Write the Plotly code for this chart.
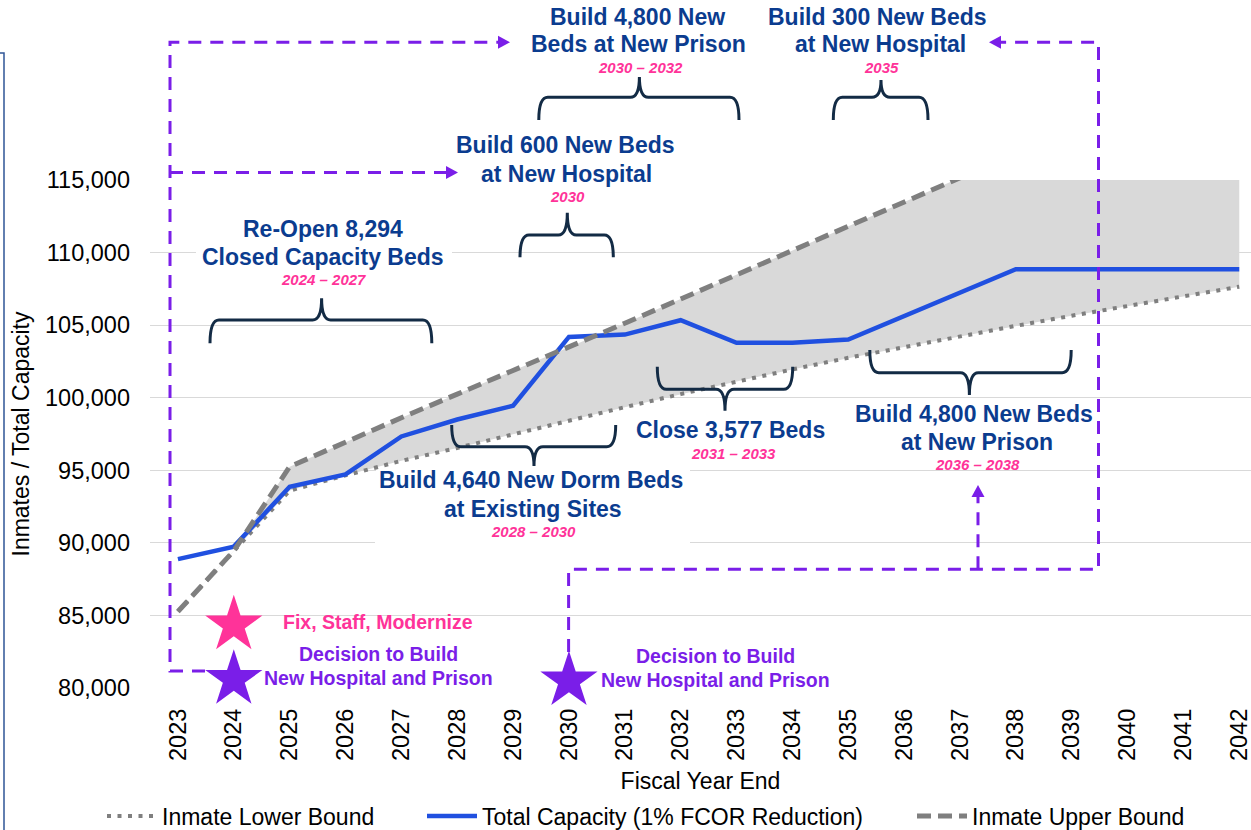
import plotly.graph_objects as go

# ---------------- data ----------------
years = list(range(2023, 2043))
year_labels = [str(y) for y in years]

inmate_lower = [85270, 89450, 93600, 94650, 95650, 96540, 97500, 98430, 99350, 100250,
                101120, 101950, 102750, 103500, 104220, 104950, 105650, 106300, 107000, 107650]
total_capacity = [88880, 89740, 93870, 94720, 97330, 98500, 99450, 104190, 104350, 105340,
                  103780, 103780, 104010, 105610, 107230, 108850, 108850, 108850, 108850, 108850]
inmate_upper = [85270, 89450, 95250, 96950, 98620, 100250, 101850, 103480, 105130, 106800,
                108470, 110140, 111810, 113480, 115150, 116820, 118490, 120160, 121830, 123500]

y_ticks = [80000, 85000, 90000, 95000, 100000, 105000, 110000, 115000]

milestone_years = [2024, 2024, 2030]
milestone_values = [84350, 80600, 80500]

# ---------------- styling / geometry ----------------
W, H = 1251, 830
PL, PR, PT, PB = 150, 1251, 180, 688
X_RANGE = [2022.5, 2022.5 + (PR - PL) / 55.86]
Y_RANGE = [80000, 115000]

FONT = "Liberation Sans, Arial, sans-serif"
NAVY = "#0B3C8F"
BRACE = "#132B45"
PINK = "#FF3399"
PURPLE = "#7A1EE8"
BLUE = "#2050E0"
GRAY = "#7F7F7F"
FILL = "#D9D9D9"
GRID = "#D9D9D9"


def px(x):
    return (x - PL) / (PR - PL)


def py(y):
    return (PB - y) / (PB - PT)


def xd(x):
    return X_RANGE[0] + (x - PL) / (PR - PL) * (X_RANGE[1] - X_RANGE[0])


def yd(y):
    return Y_RANGE[0] + (PB - y) / (PB - PT) * (Y_RANGE[1] - Y_RANGE[0])


fig = go.Figure()

# shaded band between lower and upper bound
fig.add_trace(go.Scatter(x=years, y=inmate_lower, mode="lines", line=dict(width=0),
                         showlegend=False, hoverinfo="skip"))
fig.add_trace(go.Scatter(x=years, y=inmate_upper, mode="lines", line=dict(width=0),
                         fill="tonexty", fillcolor=FILL, showlegend=False, hoverinfo="skip"))

fig.add_trace(go.Scatter(x=years, y=inmate_lower, mode="lines", name="Inmate Lower Bound",
                         line=dict(color=GRAY, width=4, dash="4px,6.5px"), legend="legend"))
fig.add_trace(go.Scatter(x=years, y=total_capacity, mode="lines",
                         name="Total Capacity (1% FCOR Reduction)",
                         line=dict(color=BLUE, width=4.5), legend="legend2"))
fig.add_trace(go.Scatter(x=years, y=inmate_upper, mode="lines", name="Inmate Upper Bound",
                         line=dict(color=GRAY, width=5, dash="14px,7px"), legend="legend3"))

fig.add_trace(go.Scatter(x=milestone_years, y=milestone_values, mode="markers",
                         marker=dict(symbol="star", size=43, color=[PINK, PURPLE, PURPLE],
                                     line=dict(width=0)),
                         cliponaxis=False, showlegend=False, hoverinfo="skip"))

shapes = []
annotations = []

# gaps in gridlines behind text boxes
for (x0, x1, yc) in [(196, 452, 252.7), (376, 690, 471), (375, 690, 543)]:
    shapes.append(dict(type="rect", xref="x", yref="y", layer="between",
                       x0=xd(x0), x1=xd(x1), y0=yd(yc + 4), y1=yd(yc - 4),
                       fillcolor="white", line=dict(width=0)))
shapes.append(dict(type="rect", xref="paper", yref="paper", layer="above",
                   x0=px(457), x1=px(678), y0=py(184), y1=py(177),
                   fillcolor="white", line=dict(width=0)))


def brace(x0, x1, xc, yh, ytip, ynotch, r=9):
    pts = [
        ("M", [(x0, ytip)]),
        ("Q", [(x0, yh), (x0 + r, yh)]),
        ("L", [(xc - r, yh)]),
        ("Q", [(xc, yh), (xc, ynotch)]),
        ("Q", [(xc, yh), (xc + r, yh)]),
        ("L", [(x1 - r, yh)]),
        ("Q", [(x1, yh), (x1, ytip)]),
    ]
    path = ""
    for cmd, ps in pts:
        path += cmd + " ".join(f"{px(a):.5f},{py(b):.5f}" for a, b in ps) + " "
    shapes.append(dict(type="path", xref="paper", yref="paper", path=path.strip(),
                       line=dict(color=BRACE, width=3), layer="above"))


brace(538.8, 739, 639.4, 97.3, 120, 77)
brace(833.3, 928, 881, 97.3, 120, 80)
brace(520, 613.3, 567.3, 235, 257.3, 212.7)
brace(210, 431.8, 321.6, 320, 343.3, 298.3)
brace(451.7, 615.7, 534, 446.7, 425, 466)
brace(657.3, 792.7, 725, 389.3, 366.7, 410.7)
brace(869.8, 1071.2, 969.4, 372.7, 350, 395)


def polyline(pts):
    path = "M" + " L".join(f"{px(a):.5f},{py(b):.5f}" for a, b in pts)
    shapes.append(dict(type="path", xref="paper", yref="paper", path=path,
                       line=dict(color=PURPLE, width=3, dash="13px,9px"), layer="above"))


def arrowhead(tip, direction, L=12, hw=6.5):
    tx, ty = tip
    if direction == "right":
        pts = [(tx - L, ty - hw), (tx, ty), (tx - L, ty + hw)]
    elif direction == "left":
        pts = [(tx + L, ty - hw), (tx, ty), (tx + L, ty + hw)]
    else:  # up
        pts = [(tx - hw, ty + L), (tx, ty), (tx + hw, ty + L)]
    path = "M" + " L".join(f"{px(a):.5f},{py(b):.5f}" for a, b in pts) + " Z"
    shapes.append(dict(type="path", xref="paper", yref="paper", path=path,
                       fillcolor=PURPLE, line=dict(width=0), layer="above"))


polyline([(205, 671), (170, 671), (170, 42.3), (499, 42.3)])
arrowhead((510, 42.3), "right")
polyline([(170, 172.5), (447, 172.5)])
arrowhead((458, 172.5), "right")
polyline([(568.6, 652), (568.6, 569.3), (1098.5, 569.3), (1098.5, 42.3), (1000, 42.3)])
arrowhead((989, 42.3), "left")
polyline([(978, 569.3), (978, 496)])
arrowhead((978, 485), "up")

# frame edge at far left
shapes.append(dict(type="path", xref="paper", yref="paper",
                   path=f"M{px(0)},{py(53)} L{px(4)},{py(53)} L{px(4)},{py(830)}",
                   line=dict(color="#2F5597", width=1.5), layer="above"))


def label(text, x, y, color, size, bold=True, italic=False):
    t = text
    if italic:
        t = f"<i>{t}</i>"
    if bold:
        t = f"<b>{t}</b>"
    annotations.append(dict(text=t, x=px(x), y=py(y - 1.5), xref="paper", yref="paper",
                            xanchor="center", yanchor="middle", showarrow=False,
                            font=dict(family=FONT, size=size, color=color)))


# navy headings
label("Build 4,800 New", 637, 18.3, NAVY, 23)
label("Beds at New Prison", 638.5, 45, NAVY, 23)
label("Build 300 New Beds", 877, 18.3, NAVY, 23)
label("at New Hospital", 880.5, 45, NAVY, 23)
label("Build 600 New Beds", 565, 146.7, NAVY, 23)
label("at New Hospital", 566.7, 175, NAVY, 23)
label("Re-Open 8,294", 323, 230, NAVY, 23)
label("Closed Capacity Beds", 323, 258.3, NAVY, 23)
label("Build 4,640 New Dorm Beds", 530.5, 481.7, NAVY, 23)
label("at Existing Sites", 532.7, 510, NAVY, 23)
label("Close 3,577 Beds", 730, 431.7, NAVY, 23)
label("Build 4,800 New Beds", 974, 415, NAVY, 23)
label("at New Prison", 976.8, 443.3, NAVY, 23)

# pink date ranges
label("2030 – 2032", 640, 69, PINK, 15, italic=True)
label("2035", 881, 69, PINK, 15, italic=True)
label("2030", 567.7, 198, PINK, 15, italic=True)
label("2024 – 2027", 323, 281, PINK, 15, italic=True)
label("2028 – 2030", 533.5, 532.7, PINK, 15, italic=True)
label("2031 – 2033", 733.9, 455, PINK, 15, italic=True)
label("2036 – 2038", 977.7, 466, PINK, 15, italic=True)

# milestone captions
label("Fix, Staff, Modernize", 377.5, 623.3, PINK, 19.5)
label("Decision to Build", 378.8, 655.7, PURPLE, 19.5)
label("New Hospital and Prison", 378.6, 679.3, PURPLE, 19.5)
label("Decision to Build", 715.2, 657.7, PURPLE, 19.5)
label("New Hospital and Prison", 715, 681, PURPLE, 19.5)

LEG_Y = 1 - 816 / H
legend_common = dict(orientation="h", yanchor="middle", xanchor="left",
                     xref="container", yref="container",
                     bgcolor="rgba(0,0,0,0)", borderwidth=0,
                     font=dict(family=FONT, size=23, color="#000000"), itemwidth=50)

fig.update_layout(
    width=W, height=H,
    margin=dict(l=PL, r=W - PR, t=PT, b=H - PB, pad=0, autoexpand=False),
    paper_bgcolor="white", plot_bgcolor="white",
    font=dict(family=FONT, size=23, color="#000000"),
    shapes=shapes, annotations=annotations,
    legend=dict(legend_common, x=102 / W, y=LEG_Y),
    legend2=dict(legend_common, x=422 / W, y=LEG_Y),
    legend3=dict(legend_common, x=912 / W, y=LEG_Y),
    xaxis=dict(range=X_RANGE, tickmode="array", tickvals=years, ticktext=year_labels,
               tickangle=-90, showgrid=False, zeroline=False, showline=False,
               ticks="", ticklabelstandoff=15, automargin=False, ticklabeloverflow="allow",
               tickfont=dict(family=FONT, size=23.5, color="#000000"),
               title=dict(text="Fiscal Year End", standoff=12,
                          font=dict(family=FONT, size=23, color="#000000"))),
    yaxis=dict(range=Y_RANGE, tickmode="array", tickvals=y_ticks, tickformat=",",
               showgrid=True, gridcolor=GRID, gridwidth=1.3, zeroline=False, showline=False,
               ticks="", ticklabelstandoff=19, automargin=False,
               tickfont=dict(family=FONT, size=23.5, color="#000000"),
               title=dict(text="Inmates / Total Capacity", standoff=8,
                          font=dict(family=FONT, size=23, color="#000000"))),
)

fig.write_html("out.html",
               config={"displayModeBar": False},
               post_script="document.body.style.margin='0px';"
                           "document.body.style.overflow='hidden';")
